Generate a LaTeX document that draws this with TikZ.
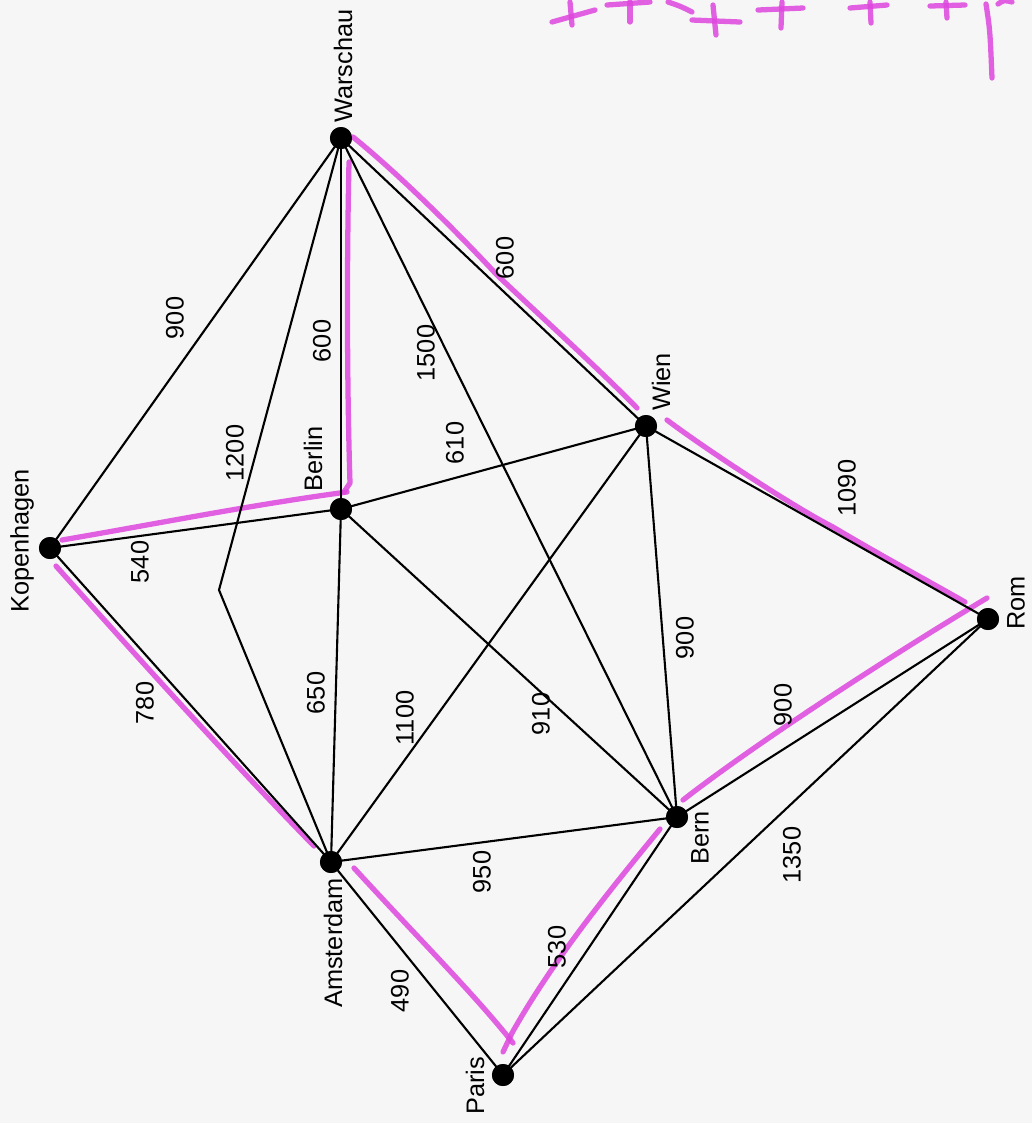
\documentclass[tikz,border=0pt]{standalone}
\usepackage{fontspec}
\setmainfont{Liberation Sans}
\definecolor{pen}{RGB}{222,70,222}
\definecolor{paper}{RGB}{246,246,246}
\begin{document}
\begin{tikzpicture}[x=0.01cm,y=-0.01cm,
  city/.style={circle,fill=black,inner sep=0pt,minimum size=0.22cm},
  citylabel/.style={rotate=90,font=\fontsize{7.2}{8}\selectfont,inner sep=0pt},
  dist/.style={rotate=90,font=\fontsize{7.2}{8}\selectfont,inner sep=0pt},
  road/.style={draw=black,line width=0.6pt},
  hl/.style={draw=pen,line width=1.5pt,line cap=round,line join=round,opacity=0.85}]
\fill[paper] (0,0) rectangle (1032,1123);
\useasboundingbox (0,0) rectangle (1032,1123);

% cities
\node[city] (W) at (341,138) {};
\node[city] (Wi) at (646,426) {};
\node[city] (B) at (341,509) {};
\node[city] (K) at (50,548) {};
\node[city] (R) at (988,619) {};
\node[city] (A) at (331,862) {};
\node[city] (Be) at (677,817) {};
\node[city] (P) at (503,1075) {};
\coordinate (bend) at (219,590);

% city names
\node[citylabel] (tW) at (343,66) {Warschau};
\node[citylabel] (tK) at (22,541) {Kopenhagen};
\node[citylabel] (tB) at (313,459) {Berlin};
\node[citylabel] (tWi) at (661,382) {Wien};
\node[citylabel] (tR) at (1016,603) {Rom};
\node[citylabel] (tBe) at (700,838) {Bern};
\node[citylabel] (tA) at (333,943) {Amsterdam};
\node[citylabel] (tP) at (475,1086) {Paris};

% magenta highlights (under the lines)
\draw[hl] (353,137) .. controls (400,175) and (460,235) .. (497,275) .. controls (550,325) and (600,370) .. (637,408);
\draw[hl] (349,162) .. controls (346,300) and (348,420) .. (350,483) -- (344,492);
\draw[hl] (347,492) .. controls (250,505) and (150,525) .. (62,540);
\draw[hl] (56,566) .. controls (140,660) and (230,760) .. (314,846);
\draw[hl] (667,420) .. controls (700,445) and (790,505) .. (833,527) .. controls (880,555) and (930,582) .. (965,602);
\draw[hl] (987,598) .. controls (900,650) and (760,740) .. (683,800);
\draw[hl] (660,829) .. controls (610,890) and (553,960) .. (512,1033) -- (503,1052);
\draw[hl] (354,868) .. controls (420,940) and (475,995) .. (513,1043);

% roads
\draw[road] (W.center) -- (K.center);
\draw[road] (W.center) -- (bend) -- (A.center);
\draw[road] (W.center) -- (B.center);
\draw[road] (W.center) -- (Be.center);
\draw[road] (W.center) -- (Wi.center);
\draw[road] (K.center) -- (B.center);
\draw[road] (B.center) -- (Wi.center);
\draw[road] (K.center) -- (A.center);
\draw[road] (B.center) -- (A.center);
\draw[road] (B.center) -- (Be.center);
\draw[road] (Wi.center) -- (A.center);
\draw[road] (Wi.center) -- (Be.center);
\draw[road] (Wi.center) -- (R.center);
\draw[road] (R.center) -- (Be.center);
\draw[road] (R.center) -- (P.center);
\draw[road] (A.center) -- (Be.center);
\draw[road] (A.center) -- (P.center);
\draw[road] (Be.center) -- (P.center);
\foreach \c in {W,Wi,B,K,R,A,Be,P} \node[city] at (\c) {};

% distances
\node[dist] (d1) at (175,318) {900};
\node[dist] (d2) at (235,453) {1200};
\node[dist] (d3) at (322,341) {600};
\node[dist] (d4) at (426,353) {1500};
\node[dist] (d5) at (505,258) {600};
\node[dist] (d6) at (455,443) {610};
\node[dist] (d7) at (140,562) {540};
\node[dist] (d8) at (145,703) {780};
\node[dist] (d9) at (316,693) {650};
\node[dist] (d10) at (405,718) {1100};
\node[dist] (d11) at (541,714) {910};
\node[dist] (d12) at (685,638) {900};
\node[dist] (d13) at (847,488) {1090};
\node[dist] (d14) at (783,705) {900};
\node[dist] (d15) at (482,872) {950};
\node[dist] (d16) at (557,947) {530};
\node[dist] (d17) at (400,991) {490};
\node[dist] (d18) at (792,855) {1350};

% scribbles at the top
\draw[hl] (552,22) -- (595,10);
\draw[hl] (570,2) -- (572,25);
\draw[hl] (607,5) -- (650,2);
\draw[hl] (630,2) -- (630,22);
\draw[hl] (668,2) .. controls (680,6) .. (692,12);
\draw[hl] (692,20) -- (740,22);
\draw[hl] (713,5) -- (716,35);
\draw[hl] (758,10) -- (803,8);
\draw[hl] (782,2) -- (781,28);
\draw[hl] (850,8) -- (887,5);
\draw[hl] (870,2) -- (871,23);
\draw[hl] (930,6) -- (965,5);
\draw[hl] (946,2) -- (947,18);
\draw[hl] (986,4) .. controls (990,30) .. (992,78);
\draw[hl] (998,4) .. controls (1004,0) .. (1012,2);
\end{tikzpicture}
\end{document}
